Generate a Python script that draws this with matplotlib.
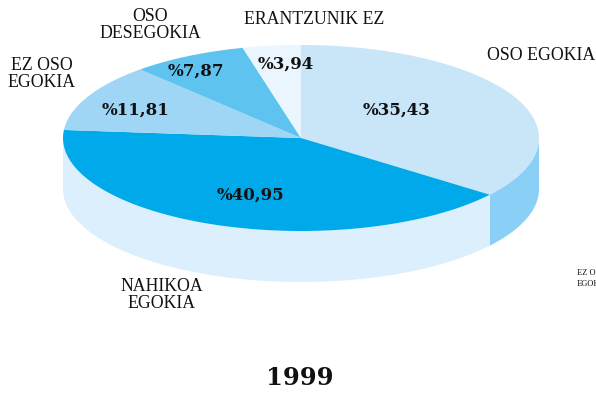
import numpy as np
import matplotlib.pyplot as plt
from matplotlib.patches import Polygon

# 1999 survey answers, clockwise from 12 o'clock
labels = ["OSO EGOKIA", "NAHIKOA\nEGOKIA", "EZ OSO\nEGOKIA", "OSO\nDESEGOKIA", "ERANTZUNIK EZ"]
values = [35.43, 40.95, 11.81, 7.87, 3.94]
year = "1999"

top_colors = ["#C8E6F8", "#00A9EA", "#9FD6F5", "#5FC3F0", "#EBF5FD"]
side_colors = ["#8ACFF5", "#DCEFFC", "#9FD6F5", "#5FC3F0", "#EBF5FD"]

# label positions (pixels)
label_pos = [(487, 55, "left"), (162, 295, "center"), (42, 74, "center"),
             (150, 25, "center"), (314, 19, "center")]
pct_pos = [(397, 110), (250, 195), (135, 110), (196, 71), (286, 64)]

W, H = 596, 394
fig = plt.figure(figsize=(W / 100, H / 100), dpi=100)
ax = fig.add_axes([0, 0, 1, 1])
ax.set_xlim(0, W)
ax.set_ylim(H, 0)
ax.axis("off")

cx, cy, rx, ry, depth = 301, 138, 238, 93, 51


def pt(a):
    return cx + rx * np.cos(a), cy - ry * np.sin(a)


# slice angles, clockwise from the top
fracs = np.array(values) / sum(values)
starts = np.pi / 2 - np.concatenate([[0], np.cumsum(fracs)[:-1]]) * 2 * np.pi
ends = starts - fracs * 2 * np.pi

# side walls (front half only)
for s, e, c in zip(starts, ends, side_colors):
    for shift in (0, 2 * np.pi):
        a0, a1 = max(e + shift, -np.pi), min(s + shift, 0)
        if a1 <= a0:
            continue
        a = np.linspace(a1, a0, 100)
        x, y = pt(a)
        xs = np.concatenate([x, x[::-1]])
        ys = np.concatenate([y, y[::-1] + depth])
        ax.add_patch(Polygon(np.column_stack([xs, ys]), closed=True,
                             facecolor=c, edgecolor="none"))

# top faces
for s, e, c in zip(starts, ends, top_colors):
    a = np.linspace(s, e, 200)
    x, y = pt(a)
    xs = np.concatenate([[cx], x])
    ys = np.concatenate([[cy], y])
    ax.add_patch(Polygon(np.column_stack([xs, ys]), closed=True,
                         facecolor=c, edgecolor="none"))

for lab, (x, y, ha) in zip(labels, label_pos):
    ax.text(x, y, lab, ha=ha, va="center", fontsize=12.8, family="Liberation Serif",
            linespacing=1.05, color="#111111")

for v, (x, y) in zip(values, pct_pos):
    ax.text(x, y, "%" + f"{v:.2f}".replace(".", ","), ha="center", va="center",
            fontsize=12, family="DejaVu Serif", fontweight="bold", color="#111111")

# small label running off the right edge
ax.text(577, 278.5, "EZ OSO\nEGOKIA", ha="left", va="center", fontsize=6,
        family="Liberation Serif", linespacing=1.5, color="#111111")

ax.text(300, 378, year, ha="center", va="center", fontsize=17.5,
        family="DejaVu Serif", fontweight="bold", color="#111111")

fig.savefig("out.png", dpi=100)
